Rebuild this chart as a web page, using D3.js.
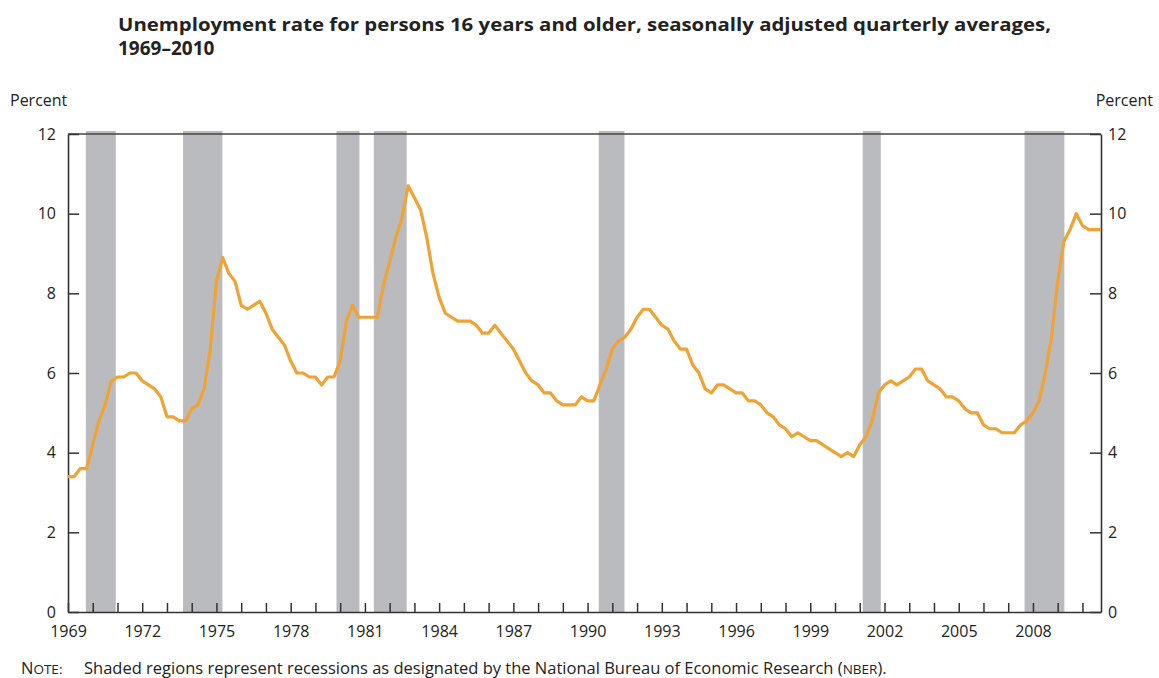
<!DOCTYPE html>
<html>
<head>
<meta charset="utf-8">
<script src="https://cdn.jsdelivr.net/npm/d3@7"></script>
<style>
  body { margin: 0; background: #fff; }
  svg { display: block; }
  text { font-family: "Open Sans", "Noto Sans", sans-serif; fill: #222; }
</style>
</head>
<body>
<svg id="chart" width="1159" height="678"></svg>
<script>
// ---- Data ----
const years = d3.range(1969, 2011);
const quarterlyRates = [
  // 1969
  3.4, 3.4, 3.6, 3.6,
  // 1970
  4.2, 4.8, 5.2, 5.8,
  // 1971
  5.9, 5.9, 6.0, 6.0,
  // 1972
  5.8, 5.7, 5.6, 5.4,
  // 1973
  4.9, 4.9, 4.8, 4.8,
  // 1974
  5.1, 5.2, 5.6, 6.6,
  // 1975
  8.3, 8.9, 8.5, 8.3,
  // 1976
  7.7, 7.6, 7.7, 7.8,
  // 1977
  7.5, 7.1, 6.9, 6.7,
  // 1978
  6.3, 6.0, 6.0, 5.9,
  // 1979
  5.9, 5.7, 5.9, 5.9,
  // 1980
  6.3, 7.3, 7.7, 7.4,
  // 1981
  7.4, 7.4, 7.4, 8.2,
  // 1982
  8.8, 9.4, 9.9, 10.7,
  // 1983
  10.4, 10.1, 9.4, 8.5,
  // 1984
  7.9, 7.5, 7.4, 7.3,
  // 1985
  7.3, 7.3, 7.2, 7.0,
  // 1986
  7.0, 7.2, 7.0, 6.8,
  // 1987
  6.6, 6.3, 6.0, 5.8,
  // 1988
  5.7, 5.5, 5.5, 5.3,
  // 1989
  5.2, 5.2, 5.2, 5.4,
  // 1990
  5.3, 5.3, 5.7, 6.1,
  // 1991
  6.6, 6.8, 6.9, 7.1,
  // 1992
  7.4, 7.6, 7.6, 7.4,
  // 1993
  7.2, 7.1, 6.8, 6.6,
  // 1994
  6.6, 6.2, 6.0, 5.6,
  // 1995
  5.5, 5.7, 5.7, 5.6,
  // 1996
  5.5, 5.5, 5.3, 5.3,
  // 1997
  5.2, 5.0, 4.9, 4.7,
  // 1998
  4.6, 4.4, 4.5, 4.4,
  // 1999
  4.3, 4.3, 4.2, 4.1,
  // 2000
  4.0, 3.9, 4.0, 3.9,
  // 2001
  4.2, 4.4, 4.8, 5.5,
  // 2002
  5.7, 5.8, 5.7, 5.8,
  // 2003
  5.9, 6.1, 6.1, 5.8,
  // 2004
  5.7, 5.6, 5.4, 5.4,
  // 2005
  5.3, 5.1, 5.0, 5.0,
  // 2006
  4.7, 4.6, 4.6, 4.5,
  // 2007
  4.5, 4.5, 4.7, 4.8,
  // 2008
  5.0, 5.3, 6.0, 6.9,
  // 2009
  8.3, 9.3, 9.6, 10.0,
  // 2010
  9.7, 9.6, 9.6, 9.6
];
// recession shading, start/end as fractional years
const recessionStart = [1969.72, 1973.65, 1979.85, 1981.36, 1990.45, 2001.12, 2007.66];
const recessionEnd   = [1970.93, 1975.24, 1980.78, 1982.69, 1991.49, 2001.85, 2009.27];
const yTicks = [0, 2, 4, 6, 8, 10, 12];
const xLabelYears = d3.range(1969, 2011, 3);

const title1 = "Unemployment rate for persons 16 years and older, seasonally adjusted quarterly averages,";
const title2 = "1969\u20132010";

// ---- Layout ----
const svg = d3.select("#chart");
const L = 68, R = 1101, T = 134, B = 612;

const x = d3.scaleLinear().domain([1969, 2010.75]).range([L, R]);
const y = d3.scaleLinear().domain([0, 12]).range([B, T]);

const points = quarterlyRates.map((v, i) => ({ t: 1969 + i / 4, v }));

// recessions
svg.append("g").selectAll("rect")
  .data(recessionStart.map((s, i) => ({ s, e: recessionEnd[i] })))
  .join("rect")
  .attr("x", d => x(d.s))
  .attr("width", d => x(d.e) - x(d.s))
  .attr("y", T - 3)
  .attr("height", B - T + 3)
  .attr("fill", "#babbbf");

// frame top line
svg.append("line")
  .attr("x1", L).attr("x2", R).attr("y1", T).attr("y2", T)
  .attr("stroke", "#444").attr("stroke-width", 1.5);

// axes
const axisStyle = g => {
  g.select(".domain").attr("stroke", "#333").attr("stroke-width", 1.6);
  g.selectAll(".tick line").attr("stroke", "#333").attr("stroke-width", 1.5);
  g.selectAll(".tick text").style("font-size", "16px").attr("fill", "#222")
    .style("font-family", '"Open Sans", sans-serif');
};

svg.append("g")
  .attr("transform", `translate(${L},0)`)
  .call(d3.axisRight(y).tickValues(yTicks).tickSize(11).tickSizeOuter(0).tickFormat(d3.format("d")))
  .call(axisStyle)
  .call(g => g.selectAll(".tick text").attr("x", -12).attr("text-anchor", "end"));

svg.append("g")
  .attr("transform", `translate(${R},0)`)
  .call(d3.axisLeft(y).tickValues(yTicks).tickSize(11).tickSizeOuter(0).tickFormat(d3.format("d")))
  .call(axisStyle)
  .call(g => g.selectAll(".tick text").attr("x", 7).attr("text-anchor", "start"));

svg.append("g")
  .attr("transform", `translate(0,${B})`)
  .call(d3.axisTop(x).tickValues(years).tickSize(9).tickSizeOuter(0).tickFormat(d => xLabelYears.includes(d) ? d : ""))
  .call(axisStyle)
  .call(g => g.selectAll(".tick text").attr("y", 14).attr("dy", "0.71em"));

// line
svg.append("path")
  .datum(points)
  .attr("fill", "none")
  .attr("stroke", "#f0a232")
  .attr("stroke-width", 3.2)
  .attr("stroke-linejoin", "round")
  .attr("d", d3.line().x(d => x(d.t)).y(d => y(d.v)));

// titles
svg.append("text").attr("x", 118).attr("y", 31)
  .attr("textLength", 933).attr("lengthAdjust", "spacingAndGlyphs")
  .style("font-size", "17.5px").style("font-weight", "bold").attr("fill", "#111")
  .text(title1);
svg.append("text").attr("x", 118).attr("y", 55)
  .style("font-size", "19px").style("font-weight", "bold").attr("fill", "#111")
  .text(title2);

// Percent labels
svg.append("text").attr("x", 10).attr("y", 106).style("font-size", "16px").text("Percent");
svg.append("text").attr("x", 1153).attr("y", 106).attr("text-anchor", "end").style("font-size", "16px").text("Percent");

// note
const note = svg.append("text").attr("x", 21).attr("y", 674).style("font-size", "16.5px").attr("fill", "#333");
note.append("tspan").text("N");
note.append("tspan").style("font-size", "13.5px").text("OTE:");
note.append("tspan").attr("x", 84).text("Shaded regions represent recessions as designated by the National Bureau of Economic Research (");
note.append("tspan").style("font-size", "13.5px").text("NBER");
note.append("tspan").text(").");
</script>
</body>
</html>
